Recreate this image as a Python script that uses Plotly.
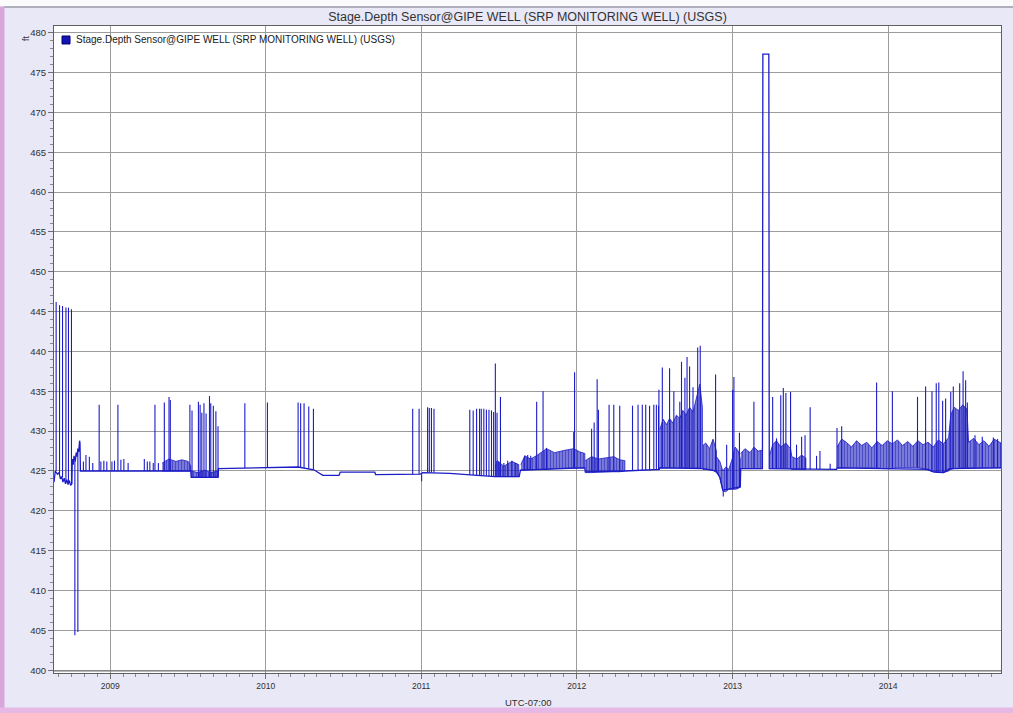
import plotly.graph_objects as go

TITLE = "Stage.Depth Sensor@GIPE WELL (SRP MONITORING WELL) (USGS)"
X_TITLE = "UTC-07:00"
UNITS = "ft"
X_RANGE = ["2008-08-22", "2014-09-23"]
Y_RANGE = [399.65, 480.84]

# ---- baseline / main path of the series ----
base_dates = [
    "2008-08-22", "2008-08-25", "2008-08-30", "2008-09-03", "2008-09-06", "2008-09-09",
    "2008-09-12", "2008-09-15", "2008-09-18", "2008-09-21", "2008-09-24", "2008-09-27",
    "2008-09-30", "2008-10-03", "2008-10-04", "2008-10-06", "2008-10-08", "2008-10-11",
    "2008-10-13", "2008-10-15", "2008-10-17", "2008-10-19", "2008-10-21", "2008-10-22",
    "2008-10-23", "2009-07-09", "2009-07-10", "2009-09-11", "2009-09-12", "2010-01-01",
    "2010-03-18", "2010-04-24", "2010-05-15", "2010-06-22", "2010-06-25", "2010-09-14",
    "2010-09-16", "2010-12-30", "2011-01-05", "2011-03-09", "2011-04-25", "2011-06-23",
    "2011-08-19", "2011-08-22", "2012-01-20", "2012-01-21", "2012-04-23", "2012-07-13",
    "2012-07-14", "2012-10-23", "2012-11-24", "2012-12-02", "2012-12-09", "2013-01-19",
    "2013-01-20", "2013-03-12", "2013-03-13", "2013-03-27", "2013-03-28", "2013-06-22",
    "2013-09-02", "2013-09-03", "2014-04-05", "2014-04-17", "2014-05-11", "2014-05-25",
    "2014-09-23",
]
base_vals = [
    423.6, 425.0, 424.6, 424.8, 424.0, 424.3,
    423.6, 424.1, 423.4, 423.9, 423.3, 423.8,
    423.2, 423.4, 426.5, 425.8, 426.9, 426.2,
    427.3, 426.8, 427.8, 427.4, 428.8, 428.5,
    425.0, 425.0, 424.2, 424.2, 425.3, 425.45,
    425.5, 425.15, 424.45, 424.45, 424.85, 424.85,
    424.55, 424.6, 424.8, 424.7, 424.5, 424.3,
    424.3, 425.1, 425.4, 424.9, 425.0, 425.2,
    425.4, 425.3, 425.0, 424.2, 422.6, 423.0,
    425.3, 425.3, 477.3, 477.3, 425.3, 425.2,
    425.2, 425.4, 425.2, 424.9, 424.8, 425.3,
    425.4,
]

# ---- spikes: date, level they start from, level they reach ----
spike_dates = [
    "2008-08-27", "2008-09-04", "2008-09-11", "2008-09-19", "2008-09-25", "2008-10-02",
    "2008-10-10", "2008-10-17",
    "2008-10-30", "2008-11-05", "2008-11-13", "2008-11-21", "2008-12-06", "2008-12-10",
    "2008-12-17", "2008-12-24", "2009-01-05", "2009-01-11", "2009-01-19", "2009-01-26",
    "2009-02-02", "2009-02-12", "2009-03-22", "2009-03-29", "2009-04-04", "2009-04-12",
    "2009-04-16", "2009-04-24", "2009-05-08", "2009-05-19", "2009-05-22", "2009-07-07",
    "2009-07-12", "2009-07-27", "2009-07-31", "2009-08-04", "2009-08-09", "2009-08-14",
    "2009-08-22", "2009-08-25", "2009-08-31", "2009-09-06", "2009-09-11", "2009-11-13",
    "2010-01-05",
    "2010-03-18", "2010-03-24", "2010-04-01", "2010-04-12", "2010-04-23", "2010-12-12",
    "2010-12-27", "2011-01-02", "2011-01-16", "2011-01-20", "2011-01-25", "2011-01-31",
    "2011-04-25", "2011-05-03", "2011-05-11", "2011-05-18", "2011-05-22", "2011-05-28",
    "2011-06-03", "2011-06-09", "2011-06-15", "2011-06-20", "2011-06-24", "2011-06-28",
    "2011-07-06", "2011-07-02", "2011-07-14", "2011-07-23", "2011-08-02", "2011-08-11",
    "2011-09-01", "2011-09-08", "2011-09-15", "2011-09-29", "2011-10-14", "2011-10-22",
    "2011-12-25", "2011-12-27",
    "2012-02-05", "2012-02-11", "2012-02-18", "2012-02-21", "2012-03-17", "2012-03-28",
    "2012-04-11", "2012-05-11", "2012-05-24", "2012-06-03", "2012-06-11", "2012-06-20",
    "2012-06-30", "2012-07-06", "2012-07-11", "2012-07-12", "2012-07-20", "2012-08-06",
    "2012-08-16", "2012-08-30", "2012-09-03", "2012-09-11", "2012-09-16", "2012-09-22",
    "2012-09-30", "2012-10-11", "2012-10-17", "2012-11-22", "2012-12-10", "2012-12-18",
    "2013-01-01", "2013-01-04", "2013-01-17",
    "2013-02-20", "2013-04-05", "2013-04-14", "2013-04-24", "2013-04-30", "2013-05-06",
    "2013-05-17", "2013-05-31", "2013-06-12", "2013-06-20", "2013-07-02", "2013-07-17",
    "2013-07-25", "2013-08-18", "2013-09-03", "2013-09-14", "2013-12-05",
    "2014-01-11", "2014-03-11", "2014-03-30", "2014-04-14", "2014-04-24", "2014-04-30",
    "2014-05-09", "2014-05-16", "2014-05-28", "2014-06-03", "2014-06-18", "2014-06-26",
    "2014-07-02", "2014-07-06", "2014-07-24", "2014-08-10", "2014-09-05", "2014-09-15",
]
spike_bases = [
    425.0, 424.7, 424.2, 423.6, 423.5, 423.3,
    426.3, 427.5,
    425.0, 425.0, 425.0, 425.0, 425.0, 425.0,
    425.0, 425.0, 425.0, 425.0, 425.0, 425.0,
    425.0, 425.0, 425.0, 425.0, 425.0, 425.0,
    425.0, 425.0, 425.0, 425.0, 425.0, 425.0,
    424.2, 424.2, 424.2, 424.2, 424.2, 424.2,
    424.2, 424.2, 424.2, 424.2, 424.2, 425.35,
    425.45,
    425.5, 425.5, 425.4, 425.3, 425.2, 424.6,
    424.6, 424.6, 424.8, 424.8, 424.8, 424.8,
    424.5, 424.5, 424.45, 424.4, 424.4, 424.4,
    424.4, 424.35, 424.35, 424.3, 424.3, 424.3,
    424.3, 424.3, 424.3, 424.3, 424.3, 424.3,
    425.1, 425.1, 425.15, 425.2, 425.2, 425.2,
    425.4, 425.4,
    424.9, 424.9, 424.9, 424.9, 424.9, 424.9,
    424.9, 425.0, 425.05, 425.1, 425.1, 425.1,
    425.15, 425.15, 425.2, 425.2, 425.4, 425.4,
    425.4, 425.4, 425.4, 425.4, 425.4, 425.4,
    425.4, 425.4, 425.4, 425.0, 422.5, 422.6,
    422.8, 422.8, 423.0,
    425.3, 425.3, 425.3, 425.3, 425.3, 425.3,
    425.3, 425.2, 425.2, 425.2, 425.2, 425.2,
    425.2, 425.2, 425.4, 425.4, 425.4,
    425.3, 425.4, 425.1, 424.9, 424.8, 424.8,
    424.8, 424.9, 425.2, 425.3, 425.4, 425.4,
    425.4, 425.4, 425.4, 425.4, 425.4, 425.4,
]
spike_peaks = [
    446.2, 445.8, 445.7, 445.5, 445.5, 445.3,
    404.4, 404.8,
    426.2, 427.0, 426.8, 426.0, 433.3, 426.2,
    426.3, 426.2, 426.2, 426.3, 433.3, 426.4,
    426.5, 426.0, 426.5, 426.2, 426.2, 426.0,
    433.3, 426.0, 433.6, 434.3, 433.9, 433.3,
    432.6, 433.7, 433.3, 432.3, 433.5, 432.2,
    434.4, 433.5, 433.2, 432.5, 430.6, 433.5,
    433.6,
    433.6, 433.5, 433.5, 433.1, 432.8, 432.8,
    432.8, 423.7, 433.0, 432.9, 432.9, 432.8,
    432.7, 432.6, 432.8, 432.8, 432.8, 432.8,
    432.7, 432.7, 432.6, 432.4, 438.5, 432.3,
    434.3, 426.2, 426.0, 426.3, 426.3, 426.0,
    426.9, 427.0, 426.9, 433.7, 435.0, 427.9,
    429.9, 437.4,
    430.3, 431.1, 436.5, 432.7, 433.3, 433.3,
    433.2, 433.2, 433.3, 433.3, 433.3, 433.2,
    433.3, 433.3, 433.2, 435.2, 438.0, 437.9,
    435.0, 433.7, 438.7, 436.7, 439.3, 438.1,
    435.5, 440.5, 440.7, 437.1, 421.8, 428.3,
    435.2, 436.8, 429.8,
    433.7, 434.3, 429.1, 434.5, 435.4, 434.8,
    434.9, 428.3, 429.3, 429.5, 433.0, 426.9,
    427.5, 425.9, 430.4, 430.6, 436.1,
    435.0, 434.3, 435.6, 435.0, 436.0, 436.1,
    433.8, 434.1, 434.9, 435.6, 436.0, 437.5,
    436.4, 433.6, 429.5, 429.3, 429.2, 429.0,
]

# ---- dense noisy stretches: envelope (None separates stretches) ----
band_dates = [
    "2009-05-03", "2009-05-19", "2009-06-04", "2009-06-18", "2009-07-03", "2009-07-09", None,
    "2009-07-10", "2009-07-26", "2009-08-11", "2009-08-25", "2009-09-11", None,
    "2011-06-24", "2011-06-28", "2011-07-14", "2011-08-02", "2011-08-18", None,
    "2011-08-23", "2011-09-01", "2011-09-15", "2011-10-01", "2011-10-22", "2011-11-10",
    "2011-12-04", "2011-12-25", "2012-01-08", "2012-01-20", None,
    "2012-01-21", "2012-02-05", "2012-02-21", "2012-03-07", "2012-03-28", "2012-04-11",
    "2012-04-23", None,
    "2012-07-14", "2012-07-22", "2012-07-30", "2012-08-06", "2012-08-14", "2012-08-22",
    "2012-08-30", "2012-09-06", "2012-09-14", "2012-09-22", "2012-09-30", "2012-10-08",
    "2012-10-16", "2012-10-22", None,
    "2012-10-23", "2012-10-30", "2012-11-08", "2012-11-16", "2012-11-24", None,
    "2012-11-24", "2012-12-02", "2012-12-09", "2012-12-16", "2012-12-23", "2012-12-31",
    "2013-01-07", "2013-01-14", "2013-01-19", None,
    "2013-01-20", "2013-01-30", "2013-02-11", "2013-02-20", "2013-03-02", "2013-03-12", None,
    "2013-03-29", "2013-04-05", "2013-04-14", "2013-04-24", "2013-05-06", "2013-05-17",
    "2013-05-20", "2013-06-01", "2013-06-12", "2013-06-22", None,
    "2013-09-03", "2013-09-14", "2013-09-25", "2013-10-07", "2013-10-19", "2013-10-31",
    "2013-11-12", "2013-11-24", "2013-12-06", "2013-12-18", "2013-12-30", "2014-01-11",
    "2014-01-23", "2014-02-04", "2014-02-16", "2014-02-28", "2014-03-12", "2014-03-24",
    "2014-04-05", "2014-04-17", "2014-04-29", "2014-05-11", "2014-05-23", "2014-05-28",
    "2014-06-05", "2014-06-15", "2014-06-25", "2014-07-05", "2014-07-09", "2014-07-21",
    "2014-08-02", "2014-08-14", "2014-08-26", "2014-09-07", "2014-09-23",
]
band_low = [
    425.0, 425.0, 425.0, 425.0, 425.0, 425.0, None,
    424.2, 424.2, 424.2, 424.2, 424.2, None,
    424.3, 424.3, 424.3, 424.3, 424.3, None,
    425.1, 425.1, 425.15, 425.2, 425.2, 425.3,
    425.35, 425.4, 425.4, 425.4, None,
    424.8, 424.8, 424.85, 424.9, 424.9, 424.9,
    425.0, None,
    425.4, 425.4, 425.4, 425.4, 425.4, 425.4,
    425.4, 425.4, 425.4, 425.4, 425.4, 425.4,
    425.4, 425.3, None,
    425.2, 425.2, 425.2, 425.1, 424.8, None,
    424.8, 424.2, 422.5, 422.4, 422.7, 422.7,
    422.7, 422.8, 423.0, None,
    425.3, 425.3, 425.3, 425.3, 425.3, 425.3, None,
    425.3, 425.3, 425.3, 425.3, 425.3, 425.3,
    425.2, 425.2, 425.2, 425.2, None,
    425.4, 425.4, 425.4, 425.4, 425.4, 425.4,
    425.4, 425.4, 425.4, 425.3, 425.3, 425.3,
    425.4, 425.4, 425.4, 425.4, 425.4, 425.3,
    425.1, 424.9, 424.8, 424.8, 425.0, 425.2,
    425.3, 425.3, 425.4, 425.4, 425.4, 425.4,
    425.4, 425.4, 425.4, 425.4, 425.4,
]
band_high = [
    426.0, 426.5, 426.2, 426.4, 426.2, 425.6, None,
    425.0, 424.8, 425.1, 424.8, 425.0, None,
    425.5, 426.3, 425.6, 426.2, 425.8, None,
    425.8, 426.9, 426.5, 427.0, 427.8, 427.3,
    427.6, 427.8, 427.4, 427.2, None,
    426.3, 426.8, 426.5, 426.6, 426.8, 426.4,
    426.3, None,
    430.2, 431.5, 430.8, 431.6, 431.0, 432.0,
    431.6, 432.6, 432.0, 433.0, 432.4, 434.2,
    435.9, 433.0, None,
    428.2, 428.5, 427.8, 429.0, 427.5, None,
    426.8, 426.2, 425.0, 425.5, 425.2, 426.5,
    428.0, 427.5, 426.5, None,
    427.2, 427.8, 427.3, 428.0, 427.5, 427.6, None,
    427.0, 428.3, 428.8, 428.0, 428.5, 427.8,
    426.8, 426.5, 427.0, 426.6, None,
    428.0, 429.0, 428.6, 428.0, 428.8, 428.2,
    428.6, 427.9, 428.7, 428.2, 428.8, 428.4,
    428.9, 428.2, 428.7, 428.1, 428.8, 428.3,
    428.6, 428.0, 428.9, 428.4, 429.2, 432.0,
    433.0, 432.6, 433.3, 432.8, 428.6, 429.1,
    428.3, 428.8, 428.1, 429.0, 428.5,
]

LINE = "#1c1cc8"

fig = go.Figure()

# dense stretches as filled envelopes with a vertical-stroke texture
seg_d, seg_lo, seg_hi = [], [], []
segments = []
for d, lo, hi in zip(band_dates + [None], band_low + [None], band_high + [None]):
    if d is None:
        if seg_d:
            segments.append((seg_d, seg_lo, seg_hi))
        seg_d, seg_lo, seg_hi = [], [], []
    else:
        seg_d.append(d); seg_lo.append(lo); seg_hi.append(hi)
for sd, slo, shi in segments:
    fig.add_trace(go.Scatter(
        x=sd + sd[::-1], y=shi + slo[::-1], mode="lines", fill="toself",
        fillcolor="rgba(30,30,190,0.6)",
        fillpattern=dict(shape="|", size=3, solidity=0.5, fgcolor="#1414b0",
                         bgcolor="rgba(35,35,195,0.55)"),
        line=dict(color=LINE, width=0.8), hoverinfo="skip", showlegend=False))

# main path
fig.add_trace(go.Scatter(x=base_dates, y=base_vals, mode="lines",
                         line=dict(color=LINE, width=1.3), showlegend=False))

# spikes
sx, sy = [], []
for d, b, p in zip(spike_dates, spike_bases, spike_peaks):
    sx += [d, d, None]
    sy += [b, p, None]
fig.add_trace(go.Scatter(x=sx, y=sy, mode="lines", line=dict(color=LINE, width=1.1),
                         connectgaps=False, showlegend=False))

FONT = "Liberation Sans, Arial, sans-serif"
H = 647.5  # plot height px
W = 947.0  # plot width px


def py(v):
    return (673.5 - v) / H


def px(v):
    return (v - 54) / W


shapes = [
    dict(type="rect", xref="paper", yref="paper", x0=px(-5), x1=px(1020), y0=py(6.5), y1=py(-5),
         fillcolor="#fbfbfd", line=dict(width=0), layer="below"),
    dict(type="line", xref="paper", yref="paper", x0=px(4), x1=px(1020), y0=py(7), y1=py(7),
         line=dict(color="#9a9aa8", width=1.5), layer="below"),
    dict(type="rect", xref="paper", yref="paper", x0=px(-5), x1=px(4.5), y0=py(720), y1=py(6.5),
         fillcolor="#d9a6d9", line=dict(width=0), layer="below"),
    dict(type="rect", xref="paper", yref="paper", x0=px(-5), x1=px(1020), y0=py(720), y1=py(708),
         fillcolor="#e6b8e6", line=dict(width=0), layer="below"),
    dict(type="line", xref="paper", yref="paper", x0=0, x1=1, y0=py(671.5), y1=py(671.5),
         line=dict(color="#707070", width=1)),
    # legend swatch
    dict(type="rect", xref="paper", yref="paper", x0=px(62), x1=px(70), y0=py(44), y1=py(36),
         fillcolor="#1414b4", line=dict(color="#00006e", width=1)),
]

fig.update_layout(
    width=1013, height=713,
    margin=dict(l=54, r=12, t=26, b=39.5, autoexpand=False),
    paper_bgcolor="#e8e8f6",
    plot_bgcolor="#ffffff",
    font=dict(family=FONT, size=9, color="#303030"),
    title=dict(text=TITLE, x=0.5, xref="paper", xanchor="center", y=1 - 16.5 / 713,
               yanchor="middle", font=dict(family=FONT, size=12.5, color="#333333")),
    showlegend=False,
    shapes=shapes,
    annotations=[
        dict(text=UNITS, xref="paper", yref="paper", x=px(19), y=py(33),
             showarrow=False, textangle=-90, font=dict(family=FONT, size=9, color="#303030")),
        dict(text=TITLE, xref="paper", yref="paper", x=px(74), y=py(40), xanchor="left",
             yanchor="middle", showarrow=False, font=dict(family=FONT, size=10, color="#202020")),
        dict(text=X_TITLE, xref="paper", yref="paper", x=0.5, y=py(703), xanchor="center",
             yanchor="middle", showarrow=False, font=dict(family=FONT, size=9.5, color="#303030")),
    ],
)

fig.update_xaxes(
    type="date", range=X_RANGE, tick0="2009-01-01", dtick="M12", tickformat="%Y",
    showgrid=True, gridcolor="#9c9c9c", gridwidth=1,
    ticks="outside", ticklen=5, tickcolor="#707070",
    minor=dict(dtick="M1", ticks="outside", ticklen=3, tickcolor="#8a8a8a", showgrid=False),
    showline=True, linecolor="#606060", linewidth=1, mirror=True,
    tickfont=dict(family=FONT, size=8.5, color="#303030"),
    automargin=False, zeroline=False,
)
fig.update_yaxes(
    range=Y_RANGE, tick0=400, dtick=5,
    showgrid=True, gridcolor="#9c9c9c", gridwidth=1,
    ticks="outside", ticklen=5, tickcolor="#707070",
    minor=dict(dtick=1, ticks="outside", ticklen=3, tickcolor="#8a8a8a", showgrid=False),
    showline=True, linecolor="#606060", linewidth=1, mirror=True,
    tickfont=dict(family=FONT, size=9.5, color="#303030"),
    automargin=False, zeroline=False,
)

fig.write_html("out.html")
